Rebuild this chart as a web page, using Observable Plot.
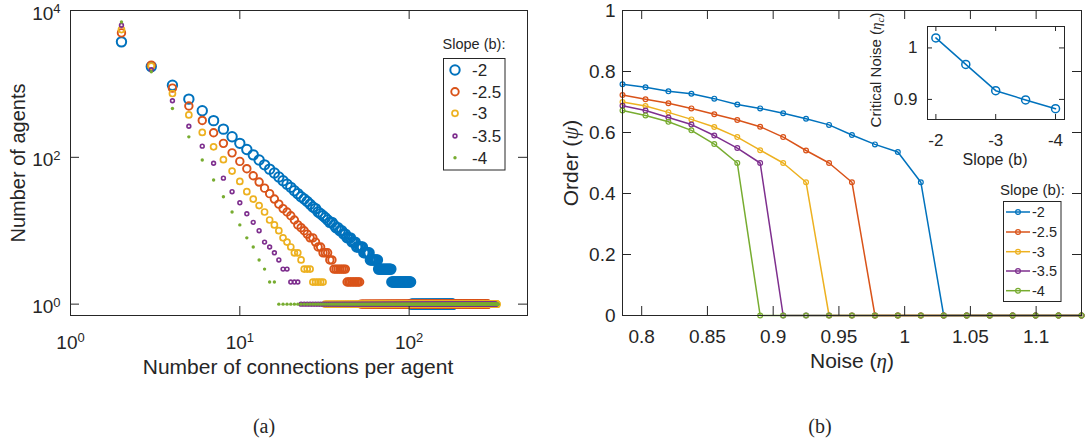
<!DOCTYPE html>
<html><head><meta charset="utf-8">
<script src="https://cdn.jsdelivr.net/npm/d3@7"></script>
<script src="https://cdn.jsdelivr.net/npm/@observablehq/plot@0.6"></script>
<style>
body{margin:0;background:#fff;}
#root{position:relative;width:1086px;height:448px;overflow:hidden;background:#fff;}
#root svg{position:absolute;overflow:visible;}
</style></head><body><div id="root"></div>
<script>
// ---------------- DATA ----------------
const slopeLabels = ["-2", "-2.5", "-3", "-3.5", "-4"];
const seriesColors = ["#0072BD", "#D95319", "#EDB120", "#7E2F8E", "#77AC30"];

// (a) degree distribution: counts for k = 2, 3, 4, ... then flat tails [kFrom, kTo, count]
const firstDegree = 2;
const countsSlope2 = [3740,1720,960,620,430,316,242,191,155,128,108,92,79,69,61,54,48,43,39,35,32,29,27,25,23,21,20,18,17,16,15,14,13,13,12,11,11,10,10,9,9,8,8,8,7,7,7,6,6,6,6,6,5,5,5,5,5,4,4,4,4,4,4,4];
const tailSlope2 = [[66,78,3],[79,102,2],[103,182,1]];
const countsSlope25 = [4950,1800,875,500,318,216,155,115,88,70,56,46,38,32,27,23,20,18,16,14,12,11,10,9,8,8,7,6,6,5,5,5,4,4];
const tailSlope25 = [[36,42,3],[43,51,2],[52,292,1]];
const countsSlope3 = [5500,1750,740,378,218,139,93,65,47,34,27,22,18,14,12,10,8,7,6,5,5,4];
const tailSlope3 = [[24,26,3],[27,31,2],[32,330,1]];
const countsSlope35 = [6300,1560,590,265,142,83,52,34,24,17,13,10,7,6,5,4];
const tailSlope35 = [[18,19,3],[20,22,2],[23,325,1]];
const countsSlope4 = [6980,1465,462,190,92,49,29,18,12,8,6,4,3];
const tailSlope4 = [[15,16,2],[17,335,1]];
const xTicksA = [1, 10, 100];
const yTicksA = [1, 100, 10000];

// (b) order vs noise
const noise = [0.7854,0.8029,0.8203,0.8378,0.8552,0.8727,0.8901,0.9076,0.9250,0.9425,0.9599,0.9774,0.9948,1.0123,1.0297,1.0472,1.0647,1.0821,1.0996,1.1170,1.1345];
const orderSlope2  = [0.758,0.748,0.735,0.727,0.711,0.692,0.679,0.663,0.645,0.625,0.592,0.561,0.536,0.437,0,0,0,0,0,0,0];
const orderSlope25 = [0.723,0.709,0.696,0.679,0.660,0.641,0.619,0.585,0.541,0.500,0.437,0,0,0,0,0,0,0,0,0,0];
const orderSlope3  = [0.700,0.687,0.666,0.643,0.618,0.585,0.542,0.500,0.437,0,0,0,0,0,0,0,0,0,0,0,0];
const orderSlope35 = [0.688,0.672,0.649,0.626,0.590,0.549,0.500,0,0,0,0,0,0,0,0,0,0,0,0,0,0];
const orderSlope4  = [0.672,0.656,0.635,0.607,0.562,0.500,0,0,0,0,0,0,0,0,0,0,0,0,0,0,0];
const xTicksB = [0.8, 0.85, 0.9, 0.95, 1, 1.05, 1.1];
const yTicksB = [0, 0.2, 0.4, 0.6, 0.8, 1];

// inset: critical noise vs slope
const insetSlopes = [-2, -2.5, -3, -3.5, -4];
const criticalNoise = [1.0195, 0.968, 0.917, 0.899, 0.882];
const xTicksInset = [-2, -3, -4];
const yTicksInset = [0.9, 1];

// ---------------- BUILD ----------------
const AX = "#262626";
const SANS = '"Liberation Sans", Arial, Helvetica, sans-serif';
const SERIF = '"Liberation Serif", "Times New Roman", serif';
const root = document.getElementById("root");

function expand(counts, tail) {
  const out = [];
  counts.forEach((c, i) => out.push({k: firstDegree + i, c}));
  tail.forEach(([a, b, c]) => { for (let k = a; k <= b; k++) out.push({k, c}); });
  return out;
}
const degreeSeries = [
  expand(countsSlope2, tailSlope2),
  expand(countsSlope25, tailSlope25),
  expand(countsSlope3, tailSlope3),
  expand(countsSlope35, tailSlope35),
  expand(countsSlope4, tailSlope4)
];
const markerA = [
  {r: 4.7, sw: 2.0, filled: false},
  {r: 3.75, sw: 1.9, filled: false},
  {r: 3.0, sw: 1.7, filled: false},
  {r: 1.9, sw: 1.6, filled: false},
  {r: 1.7, sw: 0, filled: true}
];

function boxTicks(xt, yt, fw, fh, len) {
  return [
    Plot.tickX(xt, {x: d => d, insetTop: fh - len, stroke: AX, strokeWidth: 1}),
    Plot.tickX(xt, {x: d => d, insetBottom: fh - len, stroke: AX, strokeWidth: 1}),
    Plot.tickY(yt, {y: d => d, insetRight: fw - len, stroke: AX, strokeWidth: 1}),
    Plot.tickY(yt, {y: d => d, insetLeft: fw - len, stroke: AX, strokeWidth: 1}),
    Plot.frame({stroke: AX, strokeWidth: 1})
  ];
}

// ---- Panel (a)
const aW = 540, aH = 380, aML = 70, aMR = 13, aMT = 10, aMB = 65;
const fa = Plot.plot({
  width: aW, height: aH, marginLeft: aML, marginRight: aMR, marginTop: aMT, marginBottom: aMB,
  style: {background: "transparent", fontFamily: SANS, fontSize: "19px", color: AX},
  x: {type: "log", domain: [1, 500]},
  y: {type: "log", domain: [0.7, 10000]},
  marks: [
    ...degreeSeries.map((s, i) => Plot.dot(s, {
      x: "k", y: "c", r: markerA[i].r,
      stroke: markerA[i].filled ? "none" : seriesColors[i],
      fill: markerA[i].filled ? seriesColors[i] : "none",
      strokeWidth: markerA[i].sw
    })),
    ...boxTicks(xTicksA, yTicksA, aW - aML - aMR, aH - aMT - aMB, 9),
    Plot.axisX({ticks: xTicksA, tickSize: 0, tickPadding: 19.5, label: null, fill: AX,
      tickFormat: d => "10^" + Math.round(Math.log10(d))}),
    Plot.axisY({ticks: yTicksA, tickSize: 0, tickPadding: 10, label: null, fill: AX, dy: 3,
      tickFormat: d => "10^" + Math.round(Math.log10(d))})
  ]
});
fa.style.left = "0px"; fa.style.top = "0px";
d3.select(fa).selectAll("text").each(function() {
  const m = /^10\^(\d)$/.exec(this.textContent);
  if (m) {
    const s = d3.select(this);
    s.text(null);
    s.append("tspan").text("10");
    s.append("tspan").attr("dy", "-6.5").attr("font-size", "13px").text(m[1]);
  }
});
root.appendChild(fa);

// ---- Panel (b)
const orderSeries = [orderSlope2, orderSlope25, orderSlope3, orderSlope35, orderSlope4]
  .map(arr => arr.map((v, i) => ({x: noise[i], y: v})));
const bLeft = 541, bW = 545, bH = 380, bML = 81, bMR = 5, bMT = 10, bMB = 65;
const fb = Plot.plot({
  width: bW, height: bH, marginLeft: bML, marginRight: bMR, marginTop: bMT, marginBottom: bMB,
  style: {background: "transparent", fontFamily: SANS, fontSize: "19px", color: AX},
  x: {domain: [noise[0], noise[noise.length - 1]]},
  y: {domain: [0, 1]},
  marks: [
    ...orderSeries.flatMap((s, i) => [
      Plot.line(s, {x: "x", y: "y", stroke: seriesColors[i], strokeWidth: 1.5}),
      Plot.dot(s, {x: "x", y: "y", r: 2.4, stroke: seriesColors[i], fill: "none", strokeWidth: 1.2})
    ]),
    ...boxTicks(xTicksB, yTicksB, bW - bML - bMR, bH - bMT - bMB, 9),
    Plot.axisX({ticks: xTicksB, tickSize: 0, tickPadding: 14, label: null, fill: AX, tickFormat: d => String(d)}),
    Plot.axisY({ticks: yTicksB, tickSize: 0, tickPadding: 7, label: null, fill: AX, tickFormat: d => String(d)})
  ]
});
fb.style.left = bLeft + "px"; fb.style.top = "0px";
root.appendChild(fb);

// ---- Inset
const insetData = insetSlopes.map((s, i) => ({s, v: criticalNoise[i]}));
const iLeft = 860, iW = 210, iH = 175, iML = 67, iMR = 6, iMT = 26, iMB = 56;
const fi = Plot.plot({
  width: iW, height: iH, marginLeft: iML, marginRight: iMR, marginTop: iMT, marginBottom: iMB,
  style: {background: "transparent", fontFamily: SANS, fontSize: "17px", color: AX},
  x: {domain: [-1.86, -4.15]},
  y: {domain: [0.861, 1.0416]},
  marks: [
    Plot.frame({fill: "white"}),
    Plot.line(insetData, {x: "s", y: "v", stroke: seriesColors[0], strokeWidth: 1.5}),
    Plot.dot(insetData, {x: "s", y: "v", r: 4, stroke: seriesColors[0], fill: "none", strokeWidth: 1.5}),
    ...boxTicks(xTicksInset, yTicksInset, iW - iML - iMR, iH - iMT - iMB, 5),
    Plot.axisX({ticks: xTicksInset, tickSize: 0, tickPadding: 14, label: null, fill: AX, tickFormat: d => String(d)}),
    Plot.axisY({ticks: yTicksInset, tickSize: 0, tickPadding: 10, label: null, fill: AX, tickFormat: d => String(d)})
  ]
});
fi.style.left = iLeft + "px"; fi.style.top = "0px";
root.appendChild(fi);

// ---- Overlay: axis titles, legends, captions
const ov = d3.create("svg").attr("width", 1086).attr("height", 448)
  .style("left", "0px").style("top", "0px").attr("font-family", SANS).attr("fill", AX);

function rotLabel(x, y, size) {
  return ov.append("text").attr("transform", `translate(${x},${y}) rotate(-90)`)
    .attr("text-anchor", "middle").attr("font-size", size);
}
rotLabel(25, 163, 20).text("Number of agents");
ov.append("text").attr("x", 298).attr("y", 374).attr("text-anchor", "middle").attr("font-size", 21)
  .text("Number of connections per agent");

const ordL = rotLabel(578, 163, 21);
ordL.append("tspan").text("Order (");
ordL.append("tspan").attr("font-family", SERIF).attr("font-style", "italic").text("ψ");
ordL.append("tspan").text(")");

const noiseL = ov.append("text").attr("x", 852).attr("y", 368).attr("text-anchor", "middle").attr("font-size", 21);
noiseL.append("tspan").text("Noise (");
noiseL.append("tspan").attr("font-family", SERIF).attr("font-style", "italic").text("η");
noiseL.append("tspan").text(")");

const critL = rotLabel(881, 70, 15);
critL.append("tspan").text("Critical Noise (");
critL.append("tspan").attr("font-family", SERIF).attr("font-style", "italic").text("η");
critL.append("tspan").attr("font-family", SERIF).attr("font-style", "italic").attr("font-size", 11).attr("dy", 3).text("c");
critL.append("tspan").attr("dy", -3).text(")");

ov.append("text").attr("x", 995).attr("y", 165).attr("text-anchor", "middle").attr("font-size", 16).text("Slope (b)");

// Legend (a)
ov.append("text").attr("x", 474).attr("y", 48.5).attr("text-anchor", "middle").attr("font-size", 14.5).text("Slope (b):");
ov.append("rect").attr("x", 443.5).attr("y", 58.5).attr("width", 61.5).attr("height", 111.5)
  .attr("fill", "white").attr("stroke", AX).attr("stroke-width", 1);
const legAy = [70, 91.7, 113.3, 136, 157.7];
slopeLabels.forEach((lab, i) => {
  const m = markerA[i];
  ov.append("circle").attr("cx", 455).attr("cy", legAy[i]).attr("r", m.r)
    .attr("fill", m.filled ? seriesColors[i] : "none")
    .attr("stroke", m.filled ? "none" : seriesColors[i]).attr("stroke-width", m.sw);
  ov.append("text").attr("x", 472).attr("y", legAy[i] + 6).attr("font-size", 17).text(lab);
});

// Legend (b)
ov.append("text").attr("x", 1032.5).attr("y", 195).attr("text-anchor", "middle").attr("font-size", 15).text("Slope (b):");
ov.append("rect").attr("x", 1003.5).attr("y", 201.5).attr("width", 57.5).attr("height", 100)
  .attr("fill", "white").attr("stroke", AX).attr("stroke-width", 1);
const legBy = [212, 232, 251.7, 271, 290.7];
slopeLabels.forEach((lab, i) => {
  ov.append("line").attr("x1", 1006).attr("x2", 1030).attr("y1", legBy[i]).attr("y2", legBy[i])
    .attr("stroke", seriesColors[i]).attr("stroke-width", 1.5);
  ov.append("circle").attr("cx", 1018).attr("cy", legBy[i]).attr("r", 2.4)
    .attr("fill", "none").attr("stroke", seriesColors[i]).attr("stroke-width", 1.2);
  ov.append("text").attr("x", 1032).attr("y", legBy[i] + 5).attr("font-size", 14.5).text(lab);
});

// Captions
ov.append("text").attr("x", 264).attr("y", 433).attr("text-anchor", "middle").attr("font-family", SERIF).attr("font-size", 20).text("(a)");
ov.append("text").attr("x", 820).attr("y", 433).attr("text-anchor", "middle").attr("font-family", SERIF).attr("font-size", 20).text("(b)");

root.appendChild(ov.node());
</script></body></html>
